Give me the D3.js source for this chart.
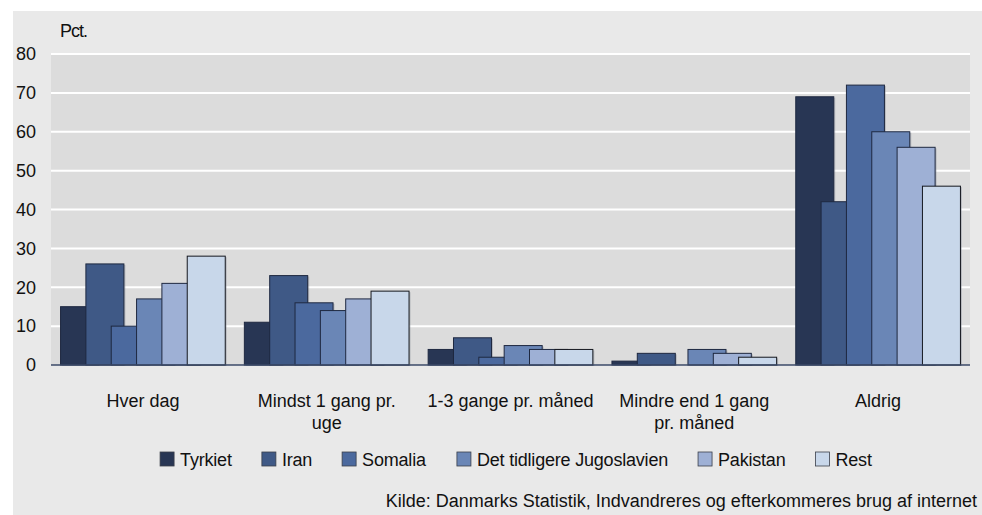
<!DOCTYPE html>
<html>
<head>
<meta charset="utf-8">
<script src="https://cdn.jsdelivr.net/npm/d3@7"></script>
<style>
  body { margin: 0; background: #fff; }
  svg { display: block; font-family: "Liberation Sans", Arial, sans-serif; }
</style>
</head>
<body>
<div id="chart"></div>
<script>
const categories = ["Hver dag", "Mindst 1 gang pr. uge", "1-3 gange pr. måned", "Mindre end 1 gang pr. måned", "Aldrig"];
const seriesNames = ["Tyrkiet", "Iran", "Somalia", "Det tidligere Jugoslavien", "Pakistan", "Rest"];
const seriesColors = ["#283654", "#3f5986", "#4b699e", "#6a86b6", "#9eb0d5", "#c8d7ea"];
const tyrkiet = [15, 11, 4, 1, 69];
const iran = [26, 23, 7, 3, 42];
const somalia = [10, 16, 2, 0, 72];
const jugoslavien = [17, 14, 5, 4, 60];
const pakistan = [21, 17, 4, 3, 56];
const rest = [28, 19, 4, 2, 46];
const yTicks = [0, 10, 20, 30, 40, 50, 60, 70, 80];
const yLabel = "Pct.";
const sourceText = "Kilde: Danmarks Statistik, Indvandreres og efterkommeres brug af internet";

const seriesValues = [tyrkiet, iran, somalia, jugoslavien, pakistan, rest];
const series = seriesNames.map((name, i) => ({ name, color: seriesColors[i], values: seriesValues[i] }));

const width = 982, height = 515;
const margin = { top: 54, right: 12, bottom: 150, left: 51 };
const fontSize = 18;

const svg = d3.select("#chart").append("svg").attr("width", width).attr("height", height);

// backgrounds
svg.append("rect").attr("x", 13).attr("y", 11).attr("width", width - 13).attr("height", height - 11).attr("fill", "#e9e9e9");
svg.append("rect")
  .attr("x", margin.left).attr("y", margin.top)
  .attr("width", width - margin.right - margin.left)
  .attr("height", height - margin.bottom - margin.top)
  .attr("fill", "#dcdcdc");

const x = d3.scaleBand().domain(categories).range([margin.left, width - margin.right]).paddingInner(0.104).paddingOuter(0.052);
const y = d3.scaleLinear().domain([0, 80]).range([height - margin.bottom, margin.top]);
// bars overlap: 6 bars, each 1.5 steps wide
const inner = d3.scaleLinear().domain([0, seriesNames.length + 0.5]).range([0, x.bandwidth()]);
const barW = inner(1.5) - inner(0);

// gridlines
svg.append("g").selectAll("line").data(yTicks.filter((d) => d > 0)).join("line")
  .attr("x1", margin.left).attr("x2", width - margin.right)
  .attr("y1", (d) => y(d)).attr("y2", (d) => y(d))
  .attr("stroke", "#ffffff").attr("stroke-width", 2);

// y axis labels
const yAxisG = svg.append("g").attr("transform", `translate(36,0)`)
  .call(d3.axisLeft(y).tickValues(yTicks).tickSize(0).tickPadding(0));
yAxisG.select(".domain").remove();
yAxisG.selectAll("text").attr("font-size", fontSize).attr("font-family", "Liberation Sans, Arial, sans-serif").attr("fill", "#111");

svg.append("text").attr("x", 60).attr("y", 37).attr("font-size", fontSize).attr("fill", "#111")
  .attr("letter-spacing", -1).text(yLabel);

// bars
svg.append("g").selectAll("g").data(series).join("g")
  .attr("fill", (d) => d.color)
  .each(function (s, si) {
    const g = d3.select(this);
    g.selectAll("rect.shadow").data(s.values).join("rect").attr("class", "shadow")
      .attr("x", (d, i) => x(categories[i]) + inner(si) + 1.5)
      .attr("y", (d) => y(d) + 1)
      .attr("width", barW)
      .attr("height", (d) => y(0) - y(d))
      .attr("fill", "#8a8f99").attr("opacity", d => d > 0 ? 0.45 : 0);
    g.selectAll("rect.bar").data(s.values).join("rect").attr("class", "bar")
      .attr("x", (d, i) => x(categories[i]) + inner(si))
      .attr("y", (d) => y(d))
      .attr("width", barW)
      .attr("height", (d) => y(0) - y(d))
      .attr("stroke", si === seriesNames.length - 1 ? "#15181f" : "#1e2840")
      .attr("stroke-width", 1)
      .attr("opacity", d => d > 0 ? 1 : 0);
  });

// x axis line
svg.append("line")
  .attr("x1", margin.left).attr("x2", width - margin.right)
  .attr("y1", y(0)).attr("y2", y(0))
  .attr("stroke", "#3b4a68").attr("stroke-width", 1.5);

// category labels, wrapped
function wrapLabel(textSel, maxW) {
  textSel.each(function (d) {
    const t = d3.select(this);
    const words = d.split(" ");
    let line = [];
    let tspan = t.append("tspan").attr("x", 0).attr("dy", 0);
    words.forEach((w) => {
      line.push(w);
      tspan.text(line.join(" "));
      if (tspan.node().getComputedTextLength() > maxW && line.length > 1) {
        line.pop();
        tspan.text(line.join(" "));
        line = [w];
        tspan = t.append("tspan").attr("x", 0).attr("dy", 22).text(w);
      }
    });
  });
}

svg.append("g").selectAll("text").data(categories).join("text")
  .attr("transform", (d) => `translate(${x(d) + x.bandwidth() / 2},407)`)
  .attr("text-anchor", "middle").attr("font-size", fontSize).attr("fill", "#111")
  .call(wrapLabel, 172);

// legend
const legendG = svg.append("g").attr("font-size", fontSize).attr("fill", "#111").attr("letter-spacing", -0.2);
const items = legendG.selectAll("g").data(series).join("g");
items.append("rect").attr("x", 0).attr("y", -14).attr("width", 14).attr("height", 14)
  .attr("fill", (d) => d.color).attr("stroke", "#3a3f4a").attr("stroke-width", 0.8);
items.append("text").attr("x", 20).attr("y", 0).text((d) => d.name);
let cx = 0;
items.each(function () {
  const w = this.getBBox().width;
  d3.select(this).attr("transform", `translate(${cx},0)`);
  cx += w + 30;
});
const legendW = cx - 30;
legendG.attr("transform", `translate(${516 - legendW / 2},466)`);

// source
svg.append("text").attr("x", 977).attr("y", 507).attr("text-anchor", "end")
  .attr("font-size", fontSize).attr("fill", "#111").text(sourceText);
</script>
</body>
</html>
